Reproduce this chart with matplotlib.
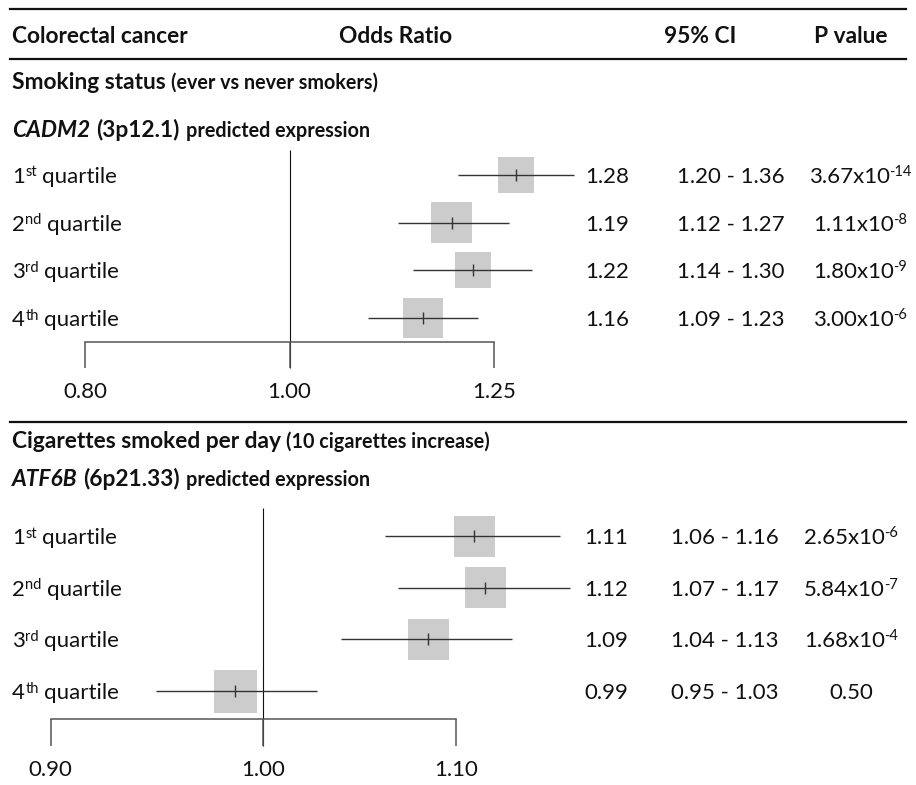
import matplotlib
matplotlib.use("Agg")
import matplotlib.pyplot as plt
from matplotlib.ticker import NullLocator

plt.rcParams['font.family'] = ['Lato', 'DejaVu Sans']

# ---- data ----
header = ["Colorectal cancer", "Odds Ratio", "95% CI", "P value"]
quartiles = ["1", "2", "3", "4"]
ordinal_sfx = ["st", "nd", "rd", "th"]

smk_title = "Smoking status"
smk_note = "(ever vs never smokers)"
smk_gene = "CADM2"
smk_band = "(3p12.1)"
smk_or = [1.280, 1.194, 1.222, 1.157]
smk_lo = [1.202, 1.126, 1.144, 1.089]
smk_hi = [1.364, 1.270, 1.303, 1.229]
smk_or_txt = ["1.28", "1.19", "1.22", "1.16"]
smk_ci_txt = ["1.20 - 1.36", "1.12 - 1.27", "1.14 - 1.30", "1.09 - 1.23"]
smk_p_mant = ["3.67x10", "1.11x10", "1.80x10", "3.00x10"]
smk_p_exp = ["-14", "-8", "-9", "-6"]
smk_ticks = [0.80, 1.00, 1.25]

cig_title = "Cigarettes smoked per day"
cig_note = "(10 cigarettes increase)"
cig_gene = "ATF6B"
cig_band = "(6p21.33)"
cig_or = [1.110, 1.116, 1.085, 0.986]
cig_lo = [1.062, 1.069, 1.039, 0.948]
cig_hi = [1.158, 1.164, 1.131, 1.027]
cig_or_txt = ["1.11", "1.12", "1.09", "0.99"]
cig_ci_txt = ["1.06 - 1.16", "1.07 - 1.17", "1.04 - 1.13", "0.95 - 1.03"]
cig_p_mant = ["2.65x10", "5.84x10", "1.68x10", "0.50"]
cig_p_exp = ["-6", "-7", "-4", ""]
cig_ticks = [0.90, 1.00, 1.10]

# box side in pixels (study weight)
smk_box = [36, 41, 36, 40]
cig_box = [41, 41, 41, 43]

W, H = 916, 785
REG = 16        # regular text
BOLD = 16.4     # bold headings
SMALL = 14.2    # bold small notes
SUP = 10.5      # superscripts
INK = '#111111'
fig = plt.figure(figsize=(W / 100, H / 100), dpi=100)
renderer = fig.canvas.get_renderer()


def put(x, y, s, **kw):
    kw.setdefault('color', INK)
    kw.setdefault('va', 'baseline')
    kw.setdefault('fontsize', REG)
    return fig.text(x / W, 1 - y / H, s, **kw)


def rich(x, y, pieces, ha='left'):
    # pieces: (text, size, weight, style, rise_px, gap_px)
    placed = []
    total = 0
    for s, size, weight, style, rise, gap in pieces:
        t = put(0, y - rise, s, fontsize=size, fontweight=weight, fontstyle=style)
        w = t.get_window_extent(renderer).width
        placed.append((t, gap, w))
        total += gap + w
    cur = x if ha == 'left' else x - total / 2
    for t, gap, w in placed:
        cur += gap
        t.set_x(cur / W)
        cur += w


def rule(y):
    fig.add_artist(plt.Line2D([10 / W, 906 / W], [1 - y / H, 1 - y / H],
                              color=INK, lw=1.6))


def forest(x0, x1, xlim, row0, step, top, bottom, axis_px, ref_top, ref_bot,
           est, lo, hi, box, ticks):
    ax = fig.add_axes([x0 / W, 1 - bottom / H, (x1 - x0) / W, (bottom - top) / H])
    ax.set_xscale('log')
    ax.set_xlim(*xlim)
    ax.set_ylim((bottom - row0) / step, (top - row0) / step)
    ax.patch.set_visible(False)
    for s in ['top', 'left', 'right']:
        ax.spines[s].set_visible(False)
    ax.spines['bottom'].set_position(('data', (axis_px - row0) / step))
    ax.spines['bottom'].set_color('#555555')
    ax.spines['bottom'].set_linewidth(1.1)
    ax.set_yticks([])
    ax.xaxis.set_minor_locator(NullLocator())
    ax.set_xticks(ticks)
    ax.set_xticklabels([f"{t:.2f}" for t in ticks], fontsize=REG, color=INK)
    ax.tick_params(axis='x', direction='out', length=(ref_bot - axis_px) * 0.72,
                   width=1.1, color='#555555', pad=10)
    rows = list(range(len(est)))
    ax.vlines(1.0, (ref_top - row0) / step, (ref_bot - row0) / step,
              color=INK, lw=0.8, clip_on=False, zorder=1)
    ax.scatter(est, rows, s=[(b * 0.72) ** 2 for b in box], marker='s',
               color='#cccccc', edgecolors='none', clip_on=False, zorder=2)
    ax.hlines(rows, lo, hi, color='#333333', lw=1.0, clip_on=False, zorder=3)
    ax.scatter(est, rows, s=8 ** 2, marker='|', color='#333333',
               linewidths=1.0, clip_on=False, zorder=4)
    return ax


def value_rows(row0, step, or_x, ci_x, p_x, or_txt, ci_txt, p_mant, p_exp):
    for i in range(len(or_txt)):
        y = row0 + step * i + 8
        rich(12, y, [(quartiles[i], REG, 'normal', 'normal', 0, 0),
                     (ordinal_sfx[i], SUP, 'normal', 'normal', 6.5, 0.5),
                     ("quartile", REG, 'normal', 'normal', 0, 5)])
        put(or_x, y, or_txt[i], ha='center')
        put(ci_x, y, ci_txt[i], ha='center')
        p = [(p_mant[i], REG, 'normal', 'normal', 0, 0)]
        if p_exp[i]:
            p.append((p_exp[i], SUP, 'normal', 'normal', 7, -1))
        rich(p_x, y, p, ha='center')


# header
rule(9)
put(12, 43, header[0], fontweight='bold', fontsize=BOLD)
put(396, 43, header[1], fontweight='bold', fontsize=BOLD, ha='center')
put(700, 43, header[2], fontweight='bold', fontsize=BOLD, ha='center')
put(851, 43, header[3], fontweight='bold', fontsize=BOLD, ha='center')
rule(59)

# smoking status panel
rich(12, 89, [(smk_title, BOLD, 'bold', 'normal', 0, 0),
              (smk_note, SMALL, 'bold', 'normal', 0, 5)])
rich(12, 137, [(smk_gene, BOLD, 'bold', 'italic', 0, 0),
               (smk_band, BOLD, 'bold', 'normal', 0, 6),
               ("predicted expression", SMALL, 'bold', 'normal', 0, 6)])
forest(85, 494, (0.80, 1.25), 175, 47.7, 145, 372, 342, 150, 368,
       smk_or, smk_lo, smk_hi, smk_box, smk_ticks)
value_rows(175, 47.7, 607, 731, 860, smk_or_txt, smk_ci_txt, smk_p_mant, smk_p_exp)

rule(422)

# cigarettes per day panel
rich(12, 448, [(cig_title, BOLD, 'bold', 'normal', 0, 0),
               (cig_note, SMALL, 'bold', 'normal', 0, 5)])
rich(12, 486, [(cig_gene, BOLD, 'bold', 'italic', 0, 0),
               (cig_band, BOLD, 'bold', 'normal', 0, 6),
               ("predicted expression", SMALL, 'bold', 'normal', 0, 6)])
forest(50.7, 456, (0.90, 1.10), 536, 51.7, 505, 750, 719, 508, 746,
       cig_or, cig_lo, cig_hi, cig_box, cig_ticks)
value_rows(536, 51.7, 606, 725, 851, cig_or_txt, cig_ci_txt, cig_p_mant, cig_p_exp)

fig.savefig('out.png', dpi=100)
